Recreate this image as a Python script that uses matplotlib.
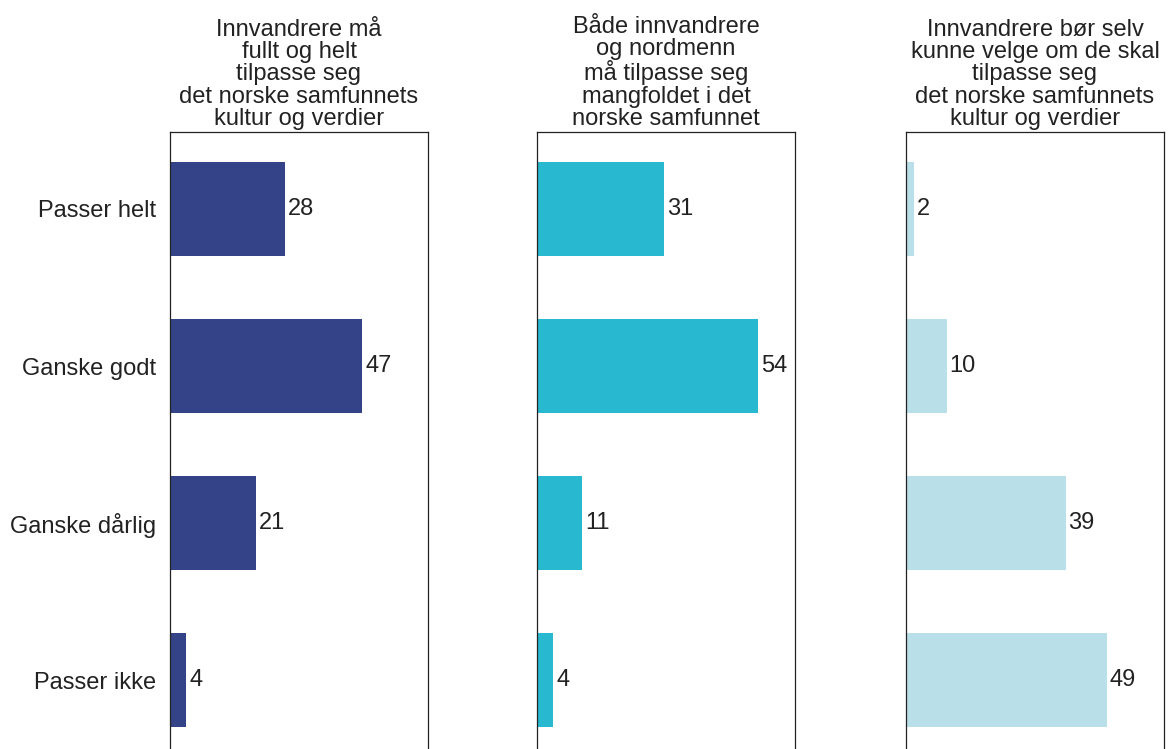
import matplotlib.pyplot as plt
import matplotlib.transforms as mtransforms
import numpy as np

plt.rcParams['font.family'] = ['Liberation Sans', 'DejaVu Sans']

categories = ["Passer helt", "Ganske godt", "Ganske dårlig", "Passer ikke"]
titles = [
    "Innvandrere må\nfullt og helt\ntilpasse seg\ndet norske samfunnets\nkultur og verdier",
    "Både innvandrere\nog nordmenn\nmå tilpasse seg\nmangfoldet i det\nnorske samfunnet",
    "Innvandrere bør selv\nkunne velge om de skal\ntilpasse seg\ndet norske samfunnets\nkultur og verdier",
]
values_1 = [28, 47, 21, 4]
values_2 = [31, 54, 11, 4]
values_3 = [2, 10, 39, 49]
colors = ["#344388", "#28b8cf", "#b9dfe9"]

fig = plt.figure(figsize=(11.68, 7.49), dpi=100)
lefts = [170, 537, 906]
y = np.arange(len(categories))
fs = 17
up = mtransforms.ScaledTranslation(0, 3 / 100, fig.dpi_scale_trans)

for i, (vals, title) in enumerate(zip([values_1, values_2, values_3], titles)):
    ax = fig.add_axes([lefts[i] / 1168, -0.011, 258 / 1168, 0.8238 + 0.011])
    bars = ax.barh(y, vals, height=0.6, color=colors[i])
    txts = ax.bar_label(bars, labels=[str(v) for v in vals], padding=2, fontsize=fs, color="#222222")
    for t in txts:
        t.set_transform(t.get_transform() + up)
    ax.set_xlim(0, 63)
    ax.set_ylim(3.49, -0.49)
    ax.set_xticks([])
    ax.set_yticks(y)
    if i == 0:
        ax.set_yticklabels(categories, fontsize=fs, color="#222222")
        for t in ax.get_yticklabels():
            t.set_transform(t.get_transform() + up)
    else:
        ax.set_yticklabels([])
    ax.tick_params(axis="y", length=0, pad=10)
    for s in ax.spines.values():
        s.set_linewidth(0.9)
        s.set_color("#222222")
    ax.set_title(title, fontsize=fs, color="#222222", pad=5, linespacing=1.02)

plt.savefig("out.png", dpi=100)
